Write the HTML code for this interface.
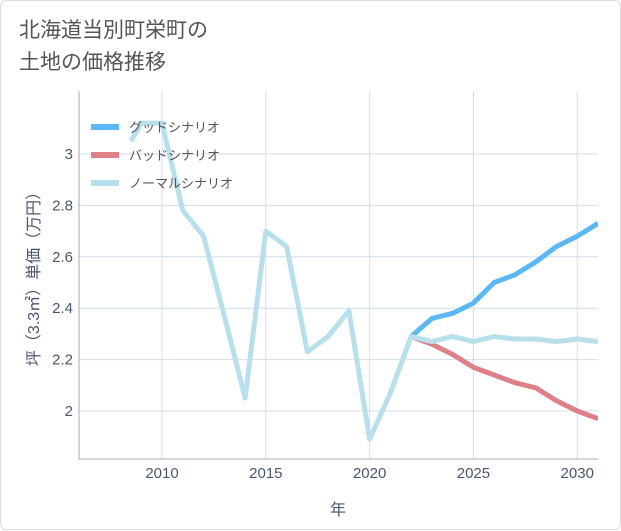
<!DOCTYPE html>
<html><head><meta charset="utf-8"><style>
body{margin:0;background:#fff;}
.wrap{position:relative;width:621px;height:530px;background:#fff;border:1px solid #ddd;box-sizing:border-box;border-radius:6px;font-family:"Liberation Sans","Noto Sans CJK JP",sans-serif;}
.title{position:absolute;left:18px;top:14px;font-size:21px;line-height:32px;color:#555;}
</style></head><body>
<div class="wrap">
<div class="title">北海道当別町栄町の<br>土地の価格推移</div>
<svg id="c" width="621" height="530" style="position:absolute;left:0;top:0"></svg>
</div>
<script>
const xTicks=[2010,2015,2020,2025,2030];
const yTicks=[2,2.2,2.4,2.6,2.8,3];
const yLabels=["2","2.2","2.4","2.6","2.8","3"];
const normalYears=[2008.5,2009,2010,2011,2012,2013,2014,2015,2016,2017,2018,2019,2020,2021,2022,2023,2024,2025,2026,2027,2028,2029,2030,2031];
const normalVals=[3.05,3.12,3.12,2.78,2.68,2.37,2.05,2.70,2.64,2.23,2.29,2.39,1.89,2.07,2.29,2.27,2.29,2.27,2.29,2.28,2.28,2.27,2.28,2.27];
const futureYears=[2022,2023,2024,2025,2026,2027,2028,2029,2030,2031];
const goodVals=[2.29,2.36,2.38,2.42,2.50,2.53,2.58,2.64,2.68,2.73];
const badVals=[2.29,2.26,2.22,2.17,2.14,2.11,2.09,2.04,2.00,1.97];
const L=78,R=597,T=90,B=458;
const X=y=>L+(y-2006)*(R-L)/25;
const Y=v=>410-(v-2)*257;
const TXT='#4a5670';
const s=document.getElementById('c');const NS='http://www.w3.org/2000/svg';
function mk(t,a,p){const e=document.createElementNS(NS,t);for(const k in a)e.setAttribute(k,a[k]);(p||s).appendChild(e);return e;}
const clip=mk('clipPath',{id:'cp'});mk('rect',{x:L,y:T,width:R-L,height:B-T},clip);
xTicks.forEach((t,i)=>{const g=mk('line',{x1:X(t),x2:X(t),y1:T,y2:B,stroke:'#d3dfea'});

const tx=mk('text',{x:X(t),y:B+19,'text-anchor':'middle','font-size':15,fill:TXT});tx.textContent=t;
});
yTicks.forEach((t,i)=>{const g=mk('line',{x1:L,x2:R,y1:Y(t),y2:Y(t),stroke:'#d3dfea'});

const tx=mk('text',{x:L-6,y:Y(t)+5,'text-anchor':'end','font-size':15,fill:TXT});tx.textContent=yLabels[i];
});
const ax=mk('path',{d:`M${L} ${T}V${B}H${R}`,stroke:'#aaa',fill:'none'});

function line(xs,vs,c,n){const p=mk('path',{d:xs.map((x,i)=>(i?'L':'M')+X(x)+' '+Y(vs[i])).join(''),stroke:c,'stroke-width':5,fill:'none','stroke-linejoin':'round','clip-path':'url(#cp)'});
}
line(futureYears,badVals,'#de8088','bad-scenario-line');
line(futureYears,goodVals,'#5bb8f4','good-scenario-line');
line(normalYears,normalVals,'#b8e0ec','normal-scenario-line');
const leg=[['グッドシナリオ','#5bb8f4'],['バッドシナリオ','#de8088'],['ノーマルシナリオ','#b8e0ec']];
leg.forEach((l,i)=>{const y=126+i*28;const r=mk('line',{x1:90,x2:118,y1:y,y2:y,stroke:l[1],'stroke-width':6});

const t=mk('text',{x:128,y:y+5,'font-size':13,fill:'#555'});t.textContent=l[0];
});
const xt=mk('text',{x:337,y:514,'text-anchor':'middle','font-size':16,fill:TXT});xt.textContent='年';

const yt=mk('text',{x:0,y:0,'text-anchor':'middle','font-size':16,fill:TXT,transform:`translate(38 ${(T+B)/2}) rotate(-90)`});yt.textContent='坪（3.3㎡）単価（万円）';

</script>
</body></html>
